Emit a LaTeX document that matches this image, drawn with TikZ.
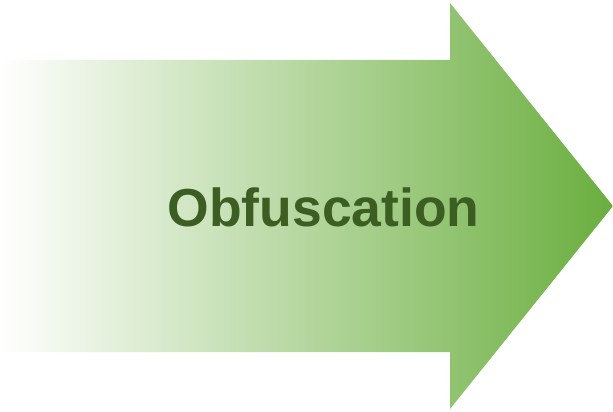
\documentclass[tikz,border=0pt]{standalone}
\usepackage{fontspec}
\setmainfont{Liberation Sans}
\usepackage{xcolor}
\usepackage{tikz}
\definecolor{arrowgreen}{RGB}{106,174,62}
\definecolor{labelgreen}{RGB}{61,94,34}

\begin{document}
\begin{tikzpicture}[x=1pt,y=-1pt,every node/.style={outer sep=0pt, inner sep=0pt}]
\useasboundingbox (0,0) rectangle (613,412);
\shade[left color=white,right color=arrowgreen] (0,60) -- (450,60) -- (450,3) -- (613,206) -- (450,409) -- (450,352) -- (0,352) -- cycle;
\node[font=\fontsize{53.5}{56}\selectfont\bfseries,text=labelgreen] (label) at (323.5,207.5) {Obfuscation};
\end{tikzpicture}
\end{document}
